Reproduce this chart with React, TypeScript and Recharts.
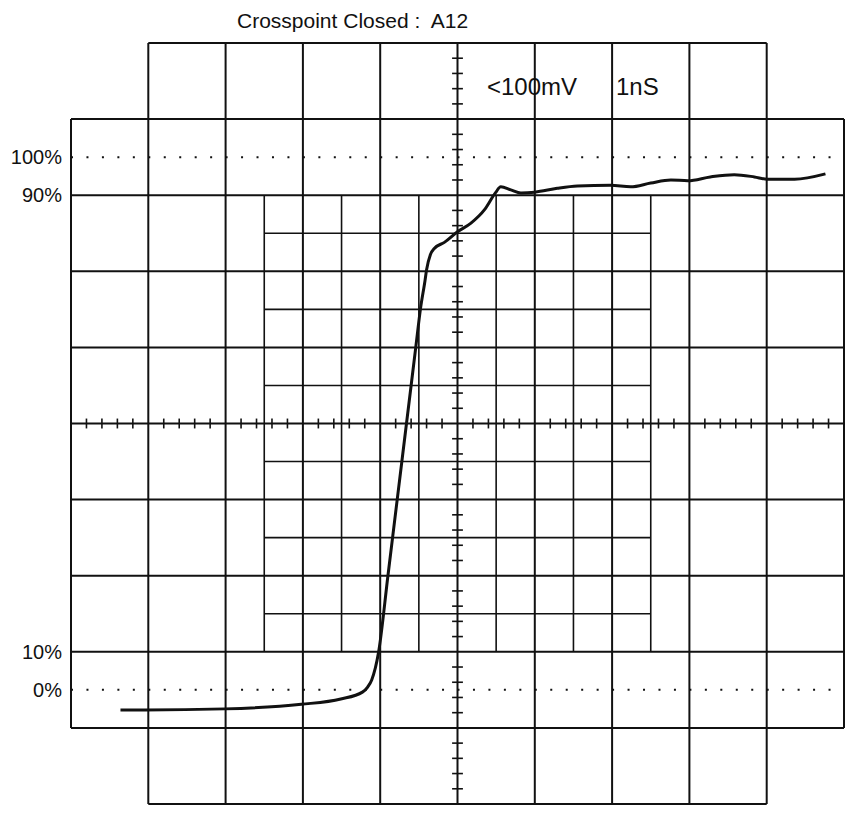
import { ComposedChart, Line, XAxis, YAxis, ReferenceLine } from 'recharts'

// trace, in screen divisions (x: time, y: volts), centre of graticule = 0,0
const timeDiv = [
  -4.36, -4.04, -3.01, -2.02, -1.51, -1.23, -1.16, -1.11, -1.02, -0.9, -0.78, -0.66, -0.54, -0.48,
  -0.42, -0.4, -0.35, -0.3, -0.17, 0, 0.17, 0.35, 0.49, 0.56, 0.69, 0.82, 1.0, 1.29, 1.55, 1.98,
  2.24, 2.5, 2.76, 2.98, 3.27, 3.58, 3.84, 4.01, 4.36, 4.76,
]
const voltDiv = [
  -3.765, -3.765, -3.75, -3.69, -3.62, -3.53, -3.46, -3.37, -3.0, -2.0, -1.0, 0.0, 1.0, 1.5,
  1.88, 2.02, 2.22, 2.3, 2.38, 2.52, 2.63, 2.81, 3.03, 3.11, 3.07, 3.03, 3.04, 3.09, 3.12, 3.13,
  3.11, 3.16, 3.2, 3.19, 3.24, 3.27, 3.24, 3.21, 3.21, 3.28,
]

const levelTicks = [-3.5, -3, 3, 3.5]
const levelLabels = ['0%', '10%', '90%', '100%']
const dottedLevels = [-3.5, 3.5]

const trace = timeDiv.map((t, i) => ({ t, v: voltDiv[i] }))

const font = '"Liberation Sans", Arial, sans-serif'
const ink = '#111'

// graticule pieces
const majors = [-5, -4, -3, -2, -1, 0, 1, 2, 3, 4, 5]
const fines = [-2.5, -1.5, -0.5, 0.5, 1.5, 2.5]
const minorTicks: number[] = []
for (let k = -25; k <= 25; k++) if (k % 5 !== 0) minorTicks.push(k / 5)

export default function App() {
  const lines: JSX.Element[] = []
  majors.forEach((p) => {
    const ext = Math.abs(p) === 5 ? 4 : 5
    lines.push(
      <ReferenceLine key={`mv${p}`} segment={[{ x: p, y: -ext }, { x: p, y: ext }]}
        stroke={ink} strokeWidth={2} ifOverflow="visible" />,
      <ReferenceLine key={`mh${p}`} segment={[{ x: -ext, y: p }, { x: ext, y: p }]}
        stroke={ink} strokeWidth={2} ifOverflow="visible" />,
    )
  })
  fines.forEach((p) => {
    lines.push(
      <ReferenceLine key={`fv${p}`} segment={[{ x: p, y: -3 }, { x: p, y: 3 }]}
        stroke={ink} strokeWidth={1.6} ifOverflow="visible" />,
      <ReferenceLine key={`fh${p}`} segment={[{ x: -2.5, y: p }, { x: 2.5, y: p }]}
        stroke={ink} strokeWidth={1.6} ifOverflow="visible" />,
    )
  })
  minorTicks.forEach((p) => {
    lines.push(
      <ReferenceLine key={`tx${p}`} segment={[{ x: p, y: -0.065 }, { x: p, y: 0.065 }]}
        stroke={ink} strokeWidth={1.6} ifOverflow="visible" />,
      <ReferenceLine key={`ty${p}`} segment={[{ x: -0.07, y: p }, { x: 0.07, y: p }]}
        stroke={ink} strokeWidth={1.6} ifOverflow="visible" />,
    )
  })
  dottedLevels.forEach((p) => {
    lines.push(
      <ReferenceLine key={`d${p}`} segment={[{ x: -5, y: p }, { x: 5, y: p }]}
        stroke={ink} strokeWidth={2} strokeDasharray="2 13.46" ifOverflow="visible" />,
    )
  })

  const txt = { position: 'absolute' as const, fontFamily: font, color: ink, whiteSpace: 'pre' as const }

  return (
    <div style={{ position: 'absolute', left: 0, top: 0, width: 845, height: 815, background: '#fff' }}>
      <div style={{ ...txt, left: 237, top: 8, fontSize: 21, lineHeight: '25px' }}>
        Crosspoint Closed :  A12
      </div>
      <div style={{ ...txt, left: 487, top: 73, fontSize: 24, lineHeight: '28px' }}>{'<100mV'}</div>
      <div style={{ ...txt, left: 616, top: 73, fontSize: 24, lineHeight: '28px' }}>1nS</div>
      <ComposedChart width={845} height={815} data={trace} margin={{ top: 43, right: 1, bottom: 11, left: 0 }}>
        <XAxis type="number" dataKey="t" domain={[-5, 5]} hide allowDataOverflow />
        <YAxis type="number" domain={[-5, 5]} width={71} ticks={levelTicks}
          tickFormatter={(v: number) => levelLabels[levelTicks.indexOf(v)] ?? ''}
          axisLine={false} tickLine={false} tickSize={7} tickMargin={2}
          tick={{ fontSize: 20, fill: ink, fontFamily: font }} allowDataOverflow />
        {lines}
        <Line type="monotone" dataKey="v" stroke={ink} strokeWidth={3} dot={false} isAnimationActive={false} />
      </ComposedChart>
    </div>
  )
}
